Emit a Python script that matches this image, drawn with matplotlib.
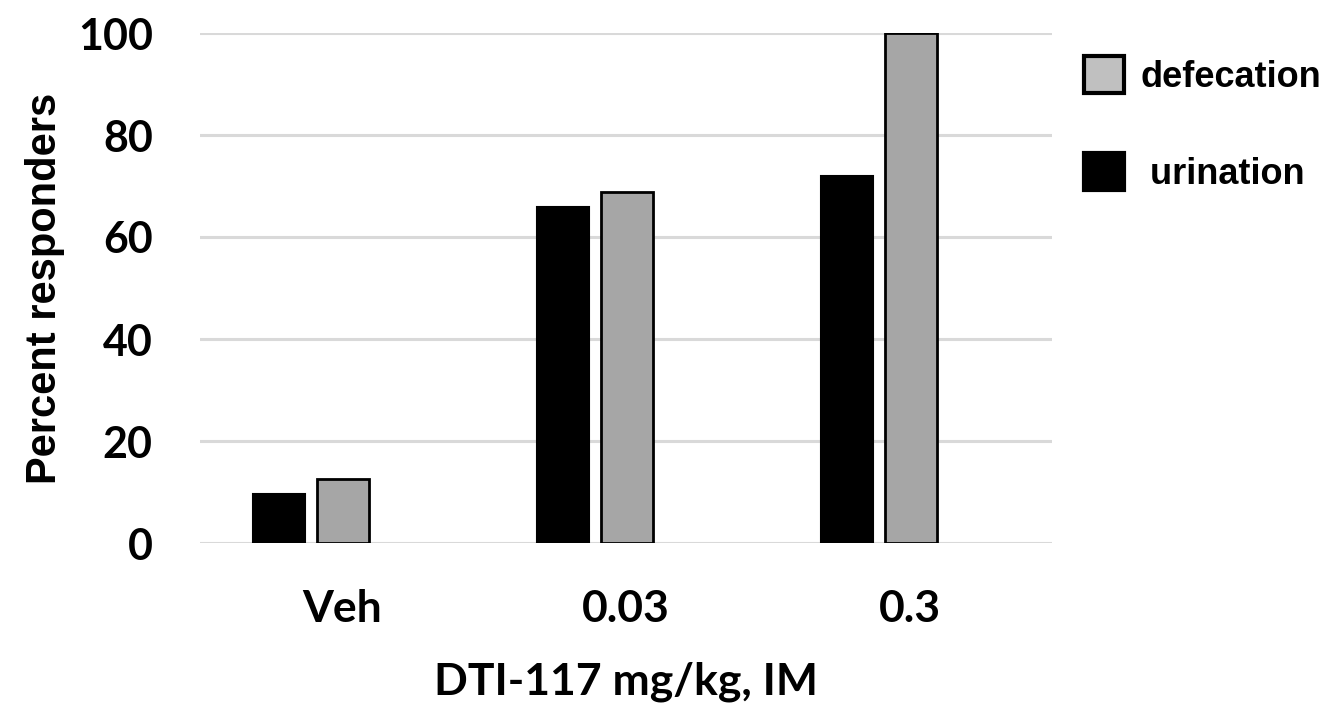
import matplotlib
matplotlib.use("Agg")
import matplotlib.pyplot as plt
from matplotlib.patches import Patch
import numpy as np

categories = ["Veh", "0.03", "0.3"]
urination = [9.7, 65.8, 72.0]
defecation = [12.5, 68.8, 100.0]
yticks = [0, 20, 40, 60, 80, 100]

W, H = 1334, 706
fig = plt.figure(figsize=(W / 100, H / 100), dpi=100)
fig.patch.set_facecolor("white")
ax = fig.add_axes([200 / W, (H - 543) / H, 852 / W, 510 / H])

x = np.arange(len(categories))
bw = 0.184
ax.bar(x - 0.222, urination, width=bw, color="black", edgecolor="black",
       linewidth=1.5, zorder=3)
ax.bar(x + 0.003, defecation, width=bw, color="#a6a6a6", edgecolor="black",
       linewidth=2.0, zorder=3)

ax.set_xlim(-0.5, len(categories) - 0.5)
ax.set_ylim(0, 100)
ax.set_yticks(yticks)
ax.set_xticks(x)
ax.set_xticklabels(categories, fontfamily="Lato", fontweight="bold", fontsize=32)
ax.set_yticklabels([str(v) for v in yticks], fontfamily="Lato",
                   fontweight="bold", fontsize=31)
ax.tick_params(axis="both", length=0)
ax.tick_params(axis="y", pad=34)
ax.tick_params(axis="x", pad=33)
for s in ax.spines.values():
    s.set_visible(False)
ax.yaxis.grid(True, color="#d9d9d9", linewidth=2.2, zorder=0)
ax.set_axisbelow(True)

ax.set_xlabel("DTI-117 mg/kg, IM", fontfamily="Lato", fontweight="bold",
              fontsize=32, va="baseline")
ax.xaxis.set_label_coords(0.5, (543 - 695) / 510)
ax.set_ylabel("Percent responders", fontfamily="Liberation Sans",
              fontweight="bold", fontsize=30, va="center", ha="center")
ax.yaxis.set_label_coords((45 - 200) / 852, 0.5)

handles = [Patch(facecolor="#c0c0c0", edgecolor="black", linewidth=3),
           Patch(facecolor="black", edgecolor="black", linewidth=3)]
leg = fig.legend(handles, ["defecation", " urination"],
                 loc="upper left", bbox_to_anchor=(1077 / W, 1 - 49 / H),
                 frameon=False, handlelength=1.1, handleheight=1.2,
                 handletextpad=0.45, labelspacing=1.62, borderaxespad=0,
                 borderpad=0.2,
                 prop={"family": "Liberation Sans", "weight": "bold", "size": 26})

fig.savefig("out.png", dpi=100, facecolor="white")
